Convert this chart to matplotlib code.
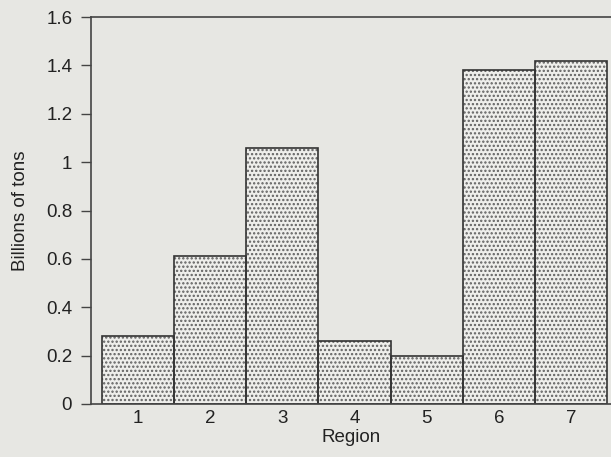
import matplotlib
matplotlib.use("Agg")
import matplotlib.pyplot as plt

regions = [1, 2, 3, 4, 5, 6, 7]
values = [0.28, 0.61, 1.06, 0.26, 0.20, 1.38, 1.42]
yticks = [0, 0.2, 0.4, 0.6, 0.8, 1.0, 1.2, 1.4, 1.6]
yticklabels = ["0", "0.2", "0.4", "0.6", "0.8", "1", "1.2", "1.4", "1.6"]

plt.rcParams['font.family'] = ['Liberation Sans', 'DejaVu Sans']
plt.rcParams['hatch.linewidth'] = 1.1

bg = '#e7e7e3'
fig = plt.figure(figsize=(6.11, 4.57), dpi=100, facecolor=bg)
ax = fig.add_axes([91/611, 53/457, 1 - 91/611, 387/457])
ax.set_facecolor(bg)

# dotted fill
ax.bar(regions, values, width=1.0, color='#eeeeeb', edgecolor='#606060',
       linewidth=0, hatch='....')
# outlines
ax.bar(regions, values, width=1.0, fill=False, edgecolor='#333333',
       linewidth=1.2)

ax.set_xlim(0.347, 7.555)
ax.set_ylim(0, 1.6)
ax.set_yticks(yticks)
ax.set_yticklabels(yticklabels)
ax.set_xticks(regions)
ax.set_xticklabels([str(r) for r in regions])

for s in ['left', 'top', 'bottom']:
    ax.spines[s].set_color('#444444')
    ax.spines[s].set_linewidth(1.2)
ax.spines['right'].set_visible(False)

ax.tick_params(axis='y', length=7, width=1, color='#444444', pad=6.5,
               labelsize=13.5, labelcolor='#222222')
ax.tick_params(axis='x', length=0, pad=4, labelsize=13.5, labelcolor='#222222')

ax.set_xlabel('Region', fontsize=13.5, color='#222222', labelpad=1.5)
ax.set_ylabel('Billions of tons', fontsize=13.5, color='#222222', labelpad=12)

fig.savefig('out.png', dpi=100, facecolor=bg)
